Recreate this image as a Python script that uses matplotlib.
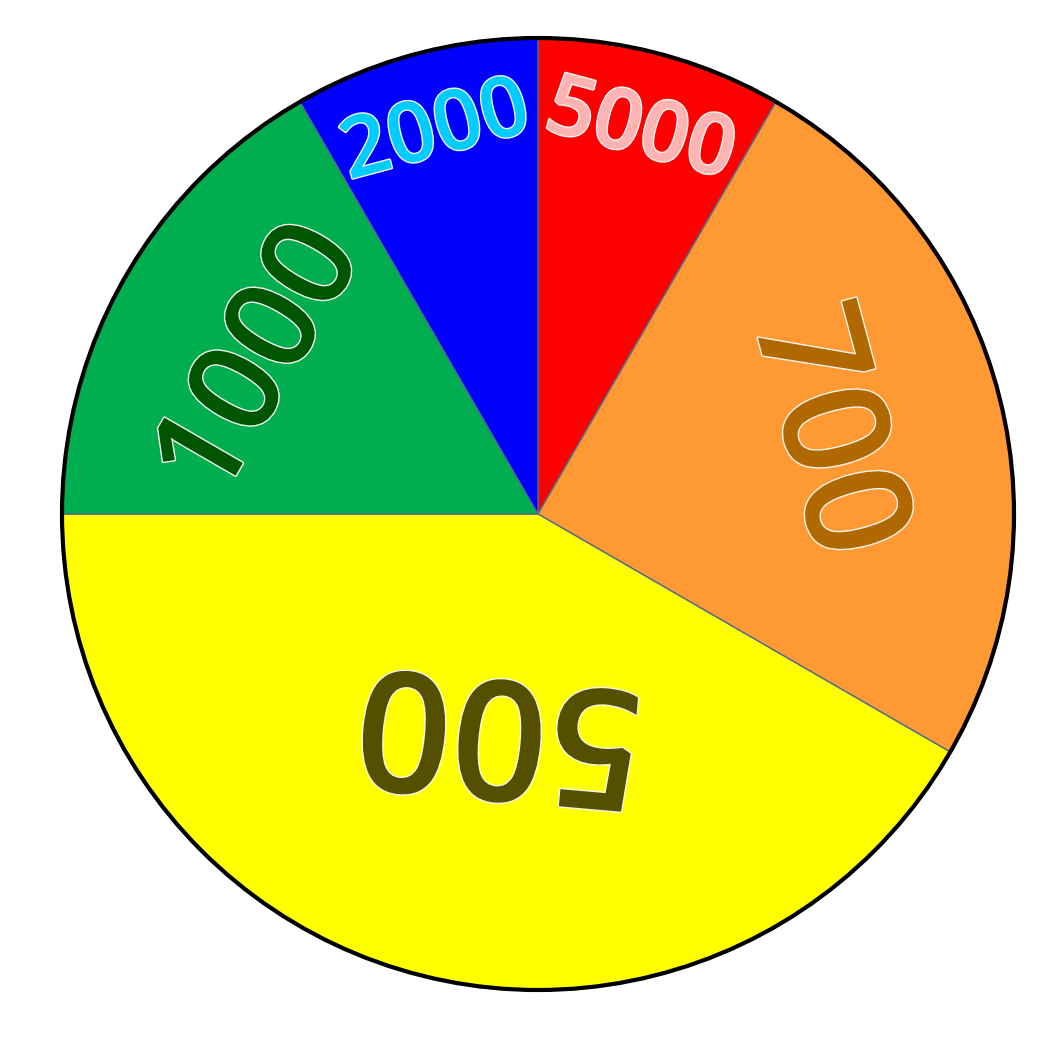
import matplotlib
matplotlib.use("Agg")
import matplotlib.pyplot as plt
import matplotlib.patheffects as pe
import numpy as np

# data
labels = ["5000", "700", "500", "1000", "2000"]
sizes = [30, 90, 150, 60, 30]
wedge_colors = ["#FF0000", "#FF9933", "#FFFF00", "#00AD4F", "#0000FF"]
label_colors = ["#FFB3B3", "#B06800", "#555000", "#005500", "#00CCFF"]

# style
label_rfrac = [0.83, 0.623, 0.45, 0.66, 0.828]
label_px = [84, 148, 168, 127, 84]
angle_adj = [0, 1, 5, 1.2, 0]    # position angle tweak (deg)
rot_adj = [0, 0, 10, 0, 0]       # rotation tweak (deg)

W, H = 1064, 1043
fig = plt.figure(figsize=(W / 100, H / 100), dpi=100)
ax = fig.add_axes([0, 0, 1, 1])
ax.set_xlim(0, W)
ax.set_ylim(0, H)
ax.set_aspect("equal")
ax.axis("off")

cx, cy, R = 538, H - 514, 476
wedges, _ = ax.pie(sizes, colors=wedge_colors, startangle=90, counterclock=False,
                   center=(cx, cy), radius=R, frame=True,
                   wedgeprops=dict(edgecolor="#4F6B8F", linewidth=1.0))
ax.set_xlim(0, W)
ax.set_ylim(0, H)
ax.axis("off")

circle = plt.Circle((cx, cy), R, fill=False, edgecolor="black", linewidth=3, zorder=5)
ax.add_patch(circle)

for i, w in enumerate(wedges):
    mid = (w.theta1 + w.theta2) / 2.0
    ang = mid + angle_adj[i]
    x = cx + label_rfrac[i] * R * np.cos(np.radians(ang))
    y = cy + label_rfrac[i] * R * np.sin(np.radians(ang))
    rot = mid - 90 + rot_adj[i]
    ax.text(x, y, labels[i], color=label_colors[i], fontsize=label_px[i] * 0.72,
            family="Open Sans", fontweight="semibold",
            ha="center", va="center", rotation=rot, rotation_mode="anchor",
            path_effects=[pe.withStroke(linewidth=2.0, foreground="#F5F5F0")], zorder=6)

fig.savefig("out.png", dpi=100)
